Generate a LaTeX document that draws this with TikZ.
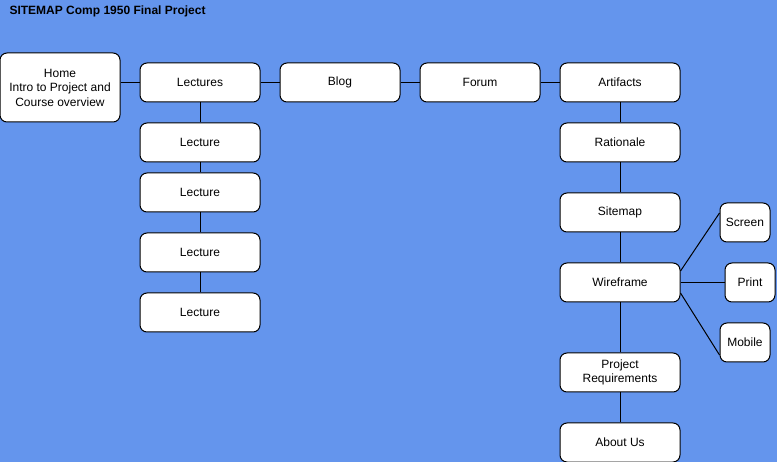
\documentclass[tikz,border=0pt]{standalone}
\usepackage{fontspec}
\setmainfont{Liberation Sans}
\definecolor{bgblue}{RGB}{100,149,237}
\begin{document}
\begin{tikzpicture}[x=1pt,y=-1pt,
  box/.style={draw=black,fill=white,line width=1pt,rounded corners=7pt,
    minimum width=120pt,minimum height=39pt,inner sep=0pt,align=center,
    font=\fontsize{12pt}{14.5pt}\selectfont},
  smallbox/.style={box,minimum width=50pt},
  link/.style={draw=black,line width=1pt}]
\fill[bgblue] (0,0) rectangle (777,462);
\useasboundingbox (0,0) rectangle (777,462);
\node[anchor=west,font=\fontsize{12pt}{14pt}\selectfont\bfseries] (title) at (6,11) {SITEMAP Comp 1950 Final Project};
% nodes
\node[box,minimum height=69pt] (home) at (60,87.5) {Home\\Intro to Project and\\Course overview};
\node[box] (lect) at (200,82.5) {Lectures};
\node[box] (blog) at (340,82.5) {Blog};
\node[box] (forum) at (480,82.5) {Forum};
\node[box] (art) at (620,82.5) {Artifacts};
\node[box] (l1) at (200,142.5) {Lecture};
\node[box] (l2) at (200,192.5) {Lecture};
\node[box] (l3) at (200,252.5) {Lecture};
\node[box] (l4) at (200,312.5) {Lecture};
\node[box] (rat) at (620,142.5) {Rationale};
\node[box] (site) at (620,212.5) {Sitemap};
\node[box] (wire) at (620,282.5) {Wireframe};
\node[box] (req) at (620,372.5) {Project\\Requirements};
\node[box] (about) at (620,442.5) {About Us};
\node[smallbox] (screen) at (745,222.5) {Screen};
\node[smallbox] (print) at (750,282.5) {Print};
\node[smallbox] (mobile) at (745,342.5) {Mobile};
% connectors
\path[link] (lect.west -| home.east) -- (lect.west);
\path[link] (lect) -- (blog);
\path[link] (blog) -- (forum);
\path[link] (forum) -- (art);
\path[link] (lect) -- (l1);
\path[link] (l1) -- (l2);
\path[link] (l2) -- (l3);
\path[link] (l3) -- (l4);
\path[link] (art) -- (rat);
\path[link] (rat) -- (site);
\path[link] (site) -- (wire);
\path[link] (wire) -- (req);
\path[link] (req) -- (about);
\path[link] ([yshift=11.5pt]wire.east) -- ([yshift=9.5pt]screen.west);
\path[link] (wire) -- (print);
\path[link] ([yshift=-10.5pt]wire.east) -- ([yshift=-12.5pt]mobile.west);
\end{tikzpicture}
\end{document}
